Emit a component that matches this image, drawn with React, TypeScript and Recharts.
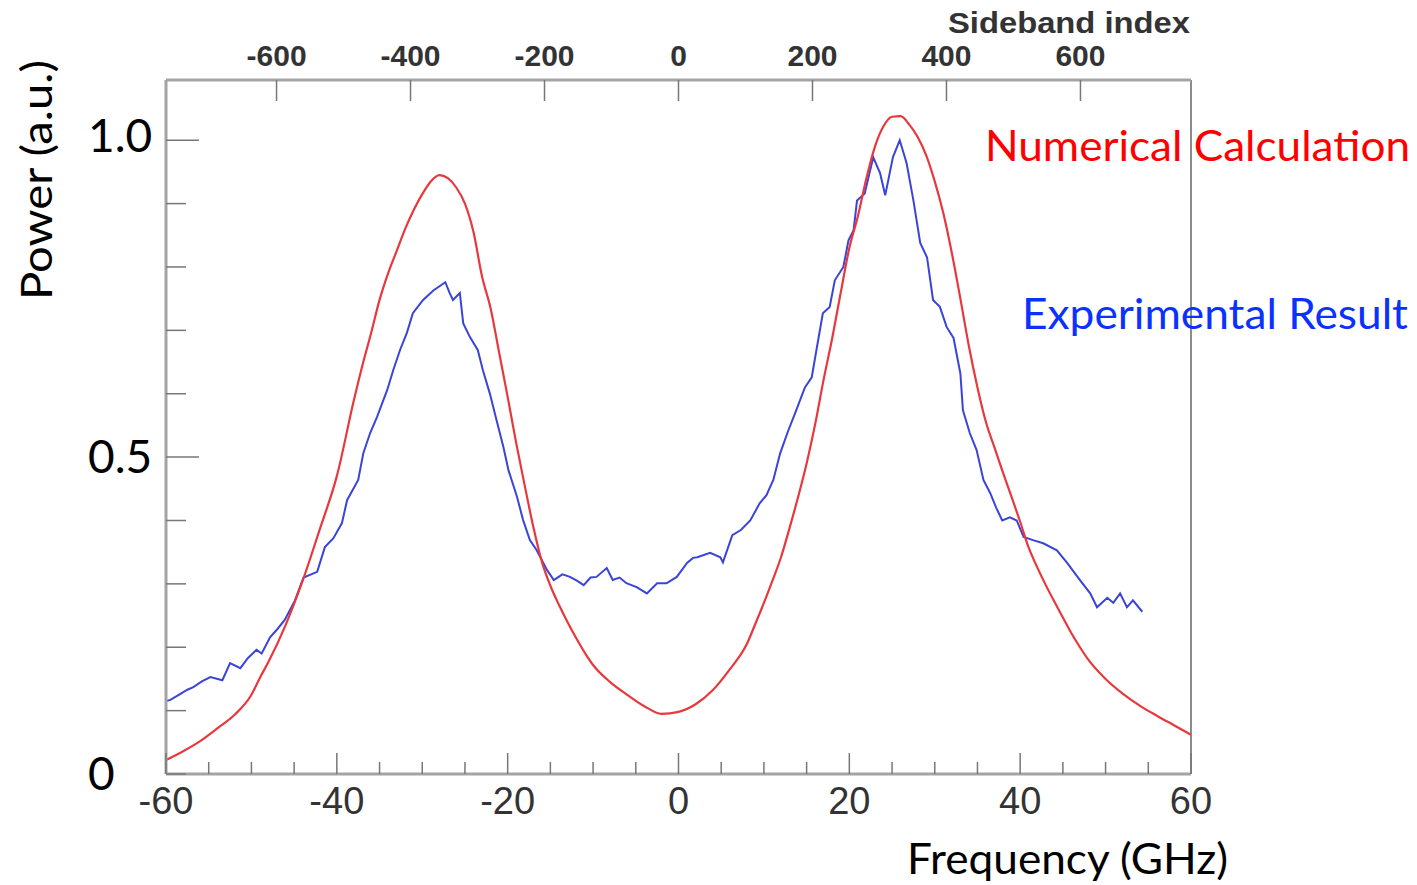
import React from "react";
import { LineChart, Line, XAxis, YAxis, ReferenceLine } from "recharts";

// numerical calculation (red), GHz / a.u.
const calcFreq = [
  -60, -58, -56, -54, -52, -50, -49, -48, -46, -44, -42, -40, -38, -37, -36,
  -35, -34, -33, -32, -31, -30, -29, -28, -27, -26, -25, -24, -23, -22, -21,
  -20, -19, -18, -17, -16, -15, -14, -13, -12, -11, -10, -8, -6, -4, -2, 0, 2,
  4, 6, 8, 9, 10, 11, 12, 13, 14, 15, 16, 17, 18, 19, 20, 21, 22, 23, 24, 25,
  26, 27, 28, 29, 30, 31, 32, 33, 34, 35, 36, 37, 38, 39, 40, 41, 42, 43, 44,
  45, 46, 47, 48, 50, 52, 54, 56, 58, 60,
];
const calcPower = [
  0.022, 0.036, 0.052, 0.072, 0.093, 0.125, 0.152, 0.177, 0.235, 0.305, 0.386,
  0.47, 0.59, 0.645, 0.695, 0.748, 0.79, 0.825, 0.86, 0.89, 0.915, 0.935,
  0.945, 0.94, 0.925, 0.9, 0.855, 0.785, 0.735, 0.665, 0.595, 0.522, 0.455,
  0.39, 0.335, 0.297, 0.267, 0.24, 0.215, 0.192, 0.172, 0.145, 0.125, 0.107,
  0.095, 0.098, 0.11, 0.132, 0.165, 0.205, 0.237, 0.27, 0.305, 0.342, 0.388,
  0.437, 0.49, 0.552, 0.623, 0.688, 0.76, 0.83, 0.88, 0.94, 0.99, 1.022, 1.037,
  1.038, 1.025, 1.005, 0.976, 0.935, 0.885, 0.822, 0.75, 0.675, 0.61, 0.555,
  0.515, 0.475, 0.437, 0.398, 0.357, 0.326, 0.298, 0.272, 0.247, 0.222, 0.2,
  0.18, 0.15, 0.127, 0.108, 0.092, 0.077, 0.062,
];

// experimental result (blue)
const expFreq = [
  -60, -59.5, -58.5, -57.5, -56.8, -55.8, -54.8, -53.4, -52.5, -51.3, -50.4,
  -49.4, -48.8, -47.8, -47, -46.1, -44.9, -43.9, -42.3, -41.4, -40.4, -39.4,
  -38.8, -37.5, -36.9, -36.1, -35.3, -34.1, -33.4, -32.6, -31.8, -31.1, -29.9,
  -28.7, -27.3, -26.8, -26.4, -25.6, -25.2, -24.4, -23.5, -22.9, -22.1, -21.3,
  -20.5, -19.9, -18.9, -18.2, -17.4, -16.6, -15.4, -14.6, -13.6, -12.7, -11.9,
  -11.1, -10.3, -9.6, -8.4, -7.7, -6.9, -6.1, -4.9, -3.7, -2.5, -1.4, -0.2, 1,
  1.7, 2.2, 3.7, 4.9, 5.2, 6.3, 7.3, 8.4, 9.5, 10.3, 11.1, 11.9, 12.8, 13.7,
  14.8, 15.6, 16.2, 16.9, 17.7, 18.3, 19.3, 19.9, 20.5, 20.9, 21.8, 22.8, 23.6,
  24.2, 25.1, 25.9, 26.7, 27.5, 28.3, 29.1, 29.8, 30.6, 31.4, 32.2, 33, 33.3,
  34.1, 34.9, 35.7, 36.5, 37.2, 37.9, 38.8, 39.6, 40.4, 41.5, 42.7, 44.3, 45.5,
  47, 48.2, 49, 50.2, 50.9, 51.7, 52.5, 53.2, 54.3,
];
const expPower = [
  0.115, 0.117, 0.125, 0.133, 0.137, 0.146, 0.153, 0.148, 0.175, 0.167, 0.183,
  0.196, 0.19, 0.216, 0.228, 0.243, 0.274, 0.31, 0.319, 0.358, 0.372, 0.396,
  0.432, 0.464, 0.506, 0.538, 0.563, 0.606, 0.637, 0.669, 0.696, 0.727, 0.748,
  0.763, 0.776, 0.759, 0.748, 0.759, 0.711, 0.689, 0.669, 0.637, 0.601, 0.558,
  0.516, 0.479, 0.437, 0.401, 0.369, 0.353, 0.322, 0.306, 0.315, 0.311, 0.305,
  0.298, 0.31, 0.311, 0.325, 0.306, 0.31, 0.301, 0.295, 0.285, 0.301, 0.301,
  0.311, 0.333, 0.341, 0.342, 0.349, 0.342, 0.334, 0.377, 0.385, 0.4, 0.427,
  0.44, 0.464, 0.506, 0.54, 0.571, 0.61, 0.626, 0.673, 0.727, 0.737, 0.779, 0.8,
  0.842, 0.858, 0.905, 0.916, 0.973, 0.948, 0.913, 0.973, 1.0, 0.964, 0.905,
  0.838, 0.815, 0.748, 0.737, 0.705, 0.688, 0.632, 0.574, 0.538, 0.511, 0.464,
  0.443, 0.42, 0.4, 0.405, 0.4, 0.374, 0.369, 0.364, 0.353, 0.333, 0.306, 0.285,
  0.263, 0.278, 0.27, 0.285, 0.263, 0.274, 0.256,
];

const freqTicks = [
  -60, -55, -50, -45, -40, -35, -30, -25, -20, -15, -10, -5, 0, 5, 10, 15, 20,
  25, 30, 35, 40, 45, 50, 55, 60,
];
const freqLabels = [-60, -40, -20, 0, 20, 40, 60];
const sidebandTicks = [-600, -400, -200, 0, 200, 400, 600];
const sidebandRange = [-765, 765];
const powerTicks = [0, 0.1, 0.2, 0.3, 0.4, 0.5, 0.6, 0.7, 0.8, 0.9, 1.0];
const powerLabels = [0, 0.5, 1.0];

const W = 1417;
const H = 885;
const LEFT = 166;
const RIGHT = 1191;
const TOP = 80;
const BOTTOM = 774;
const AXIS = "#a4a4a4";
const TICKTXT = "#333";

const calcData = calcFreq.map((f, i) => ({ f, p: calcPower[i] }));
const expData = expFreq.map((f, i) => ({ f, p: expPower[i] }));
// empty series so the sideband axis gets its scale
const sidebandData = sidebandRange.map((s) => ({ s, p: null }));

const fmt = (v: number) => (v < 0 ? "-" + Math.abs(v) : String(v));

const BottomTick = (props: any) => {
  const { x, payload } = props;
  const v = payload.value;
  const major = freqLabels.includes(v);
  return (
    <g>
      <line x1={x} x2={x} y1={BOTTOM} y2={BOTTOM - (major ? 21 : 12)} stroke="#777" strokeWidth={1.5} />
      {major && (
        <text x={x} y={BOTTOM + 27} textAnchor="middle" dominantBaseline="central"
          fontFamily="Liberation Sans, Arial, sans-serif" fontSize={38} fill={TICKTXT}>
          {fmt(v)}
        </text>
      )}
    </g>
  );
};

const TopTick = (props: any) => {
  const { x, payload } = props;
  return (
    <g>
      <line x1={x} x2={x} y1={TOP} y2={TOP + 21} stroke="#777" strokeWidth={1.5} />
      <text x={x} y={TOP - 25} textAnchor="middle" dominantBaseline="central"
        fontFamily="Liberation Sans, Arial, sans-serif" fontWeight="bold" fontSize={30} fill={TICKTXT}>
        {fmt(payload.value)}
      </text>
    </g>
  );
};

const LeftTick = (props: any) => {
  const { y, payload } = props;
  const v = payload.value;
  const major = powerLabels.some((l) => Math.abs(l - v) < 1e-6);
  return (
    <g>
      <line x1={LEFT} x2={LEFT + (major && v > 0 ? 33 : 20)} y1={y} y2={y} stroke="#777" strokeWidth={1.5} />
      {major && (
        <text x={88} y={v > 0.9 ? y - 6 : y - 2} textAnchor="start" dominantBaseline="central"
          fontFamily="Lato, sans-serif" fontSize={46} fill="#000">
          {v === 0 ? "0" : v.toFixed(1)}
        </text>
      )}
    </g>
  );
};

const App = () => {
  return (
    <div style={{ position: "absolute", left: 0, top: 0, width: W, height: H, background: "#fff" }}>
      <LineChart width={W} height={H} margin={{ top: 0, right: W - RIGHT, bottom: 0, left: 0 }}>
        <XAxis xAxisId="bottom" dataKey="f" type="number" domain={[-60, 60]} ticks={freqTicks}
          interval={0} height={H - BOTTOM} tick={<BottomTick />} tickLine={false}
          axisLine={{ stroke: AXIS, strokeWidth: 3 }} allowDataOverflow />
        <XAxis xAxisId="top" dataKey="s" orientation="top" type="number" domain={sidebandRange}
          ticks={sidebandTicks} interval={0} height={TOP} tick={<TopTick />} tickLine={false}
          axisLine={{ stroke: AXIS, strokeWidth: 3 }} allowDataOverflow />
        <YAxis type="number" domain={[0, 1.095]} ticks={powerTicks} interval={0} width={LEFT}
          tick={<LeftTick />} tickLine={false} axisLine={{ stroke: AXIS, strokeWidth: 3 }}
          allowDataOverflow />
        <ReferenceLine xAxisId="bottom" x={60} stroke="#8c8c8c" strokeWidth={2} />
        <Line xAxisId="top" data={sidebandData} dataKey="p" stroke="none" dot={false}
          isAnimationActive={false} />
        <Line xAxisId="bottom" data={expData} dataKey="p" type="linear" stroke="#3a44d8"
          strokeWidth={2} dot={false} isAnimationActive={false} />
        <Line xAxisId="bottom" data={calcData} dataKey="p" type="monotone" stroke="#e8383d"
          strokeWidth={2.2} dot={false} isAnimationActive={false} />
      </LineChart>
      <svg width={W} height={H} style={{ position: "absolute", left: 0, top: 0, pointerEvents: "none" }}>
        <text x={948} y={22} dominantBaseline="central" fontFamily="Liberation Sans, Arial, sans-serif"
          fontWeight="bold" fontSize={30} fill={TICKTXT} textLength={242} lengthAdjust="spacingAndGlyphs">
          Sideband index
        </text>
        <text x={985} y={145} dominantBaseline="central" fontFamily="Lato, sans-serif" fontSize={42}
          fill="#ff0000" textLength={425} lengthAdjust="spacingAndGlyphs">
          Numerical Calculation
        </text>
        <text x={1022} y={313} dominantBaseline="central" fontFamily="Lato, sans-serif" fontSize={42}
          fill="#0a32ff" textLength={386} lengthAdjust="spacingAndGlyphs">
          Experimental Result
        </text>
        <text x={907} y={858} dominantBaseline="central" fontFamily="Lato, sans-serif" fontSize={42}
          fill="#000" textLength={321} lengthAdjust="spacingAndGlyphs">
          Frequency (GHz)
        </text>
        <text x={0} y={0} transform="translate(36 180) rotate(-90)" textAnchor="middle"
          dominantBaseline="central" fontFamily="Lato, sans-serif" fontSize={42} fill="#000"
          textLength={240} lengthAdjust="spacingAndGlyphs">
          Power  (a.u.)
        </text>
      </svg>
    </div>
  );
};

export default App;
